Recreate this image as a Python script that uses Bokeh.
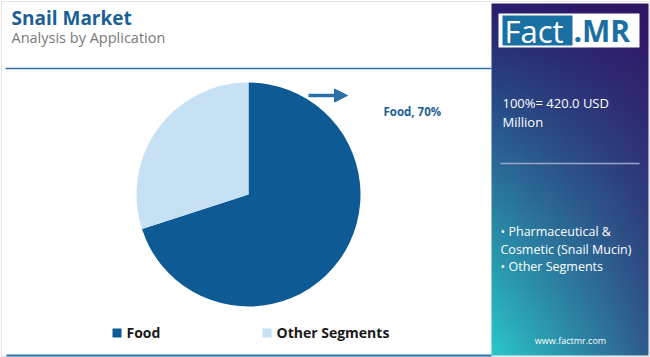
import numpy as np
from bokeh.plotting import figure
from bokeh.models import Range1d, ColumnDataSource, Arrow, NormalHead
from bokeh.core.properties import value
from bokeh.embed import file_html
from bokeh.resources import INLINE

# ---- data ----
categories = ["Food", "Other Segments"]
shares = [70, 30]
colors = ["#0d5a94", "#c5e1f3"]
title = "Snail Market"
subtitle = "Analysis by Application"
total_lines = ["100%= 420.0 USD", "Million"]
segment_lines = ["\u2022 Pharmaceutical &", "Cosmetic (Snail Mucin)", "\u2022 Other Segments"]
callout = "Food, 70%"

W, H = 650, 357
def Y(y):
    return H - y

p = figure(width=W, height=H, output_backend="svg", toolbar_location=None,
           x_range=Range1d(0, W), y_range=Range1d(0, H), min_border=0)
p.axis.visible = False
p.grid.visible = False
p.outline_line_color = None
p.background_fill_color = "white"
p.border_fill_color = "white"

# outer light border
p.quad(left=[1], right=[W - 1], bottom=[Y(H - 1)], top=[Y(1)], fill_color=None,
       line_color="#e6e6e6", line_width=1)

# ---- right gradient panel ----
nx, ny = 40, 80
xs = np.linspace(0, 1, nx)[None, :]
ys = np.linspace(0, 1, ny)[:, None]  # 0 = bottom
TL = np.array([40, 30, 110]); TR = np.array([48, 20, 100])
BL = np.array([42, 198, 200]); BR = np.array([46, 92, 142])
img = np.empty((ny, nx), dtype=np.uint32)
view = img.view(dtype=np.uint8).reshape((ny, nx, 4))
for c in range(3):
    top = TL[c] * (1 - xs) + TR[c] * xs
    bot = BL[c] * (1 - xs) + BR[c] * xs
    v = bot * (1 - ys) + top * ys
    view[:, :, c] = np.clip(v, 0, 255).astype(np.uint8)
view[:, :, 3] = 255
p.image_rgba(image=[img], x=491, y=Y(355), dw=157, dh=352)

# logo
p.quad(left=[498], right=[639], bottom=[Y(47)], top=[Y(13)], fill_color="white", line_color=None)
p.quad(left=[502], right=[572], bottom=[Y(45)], top=[Y(15)], fill_color="#1a6fa3", line_color=None)
p.text(x=[504], y=[Y(30)], text=["Fact"], text_color="white", text_font=value("Open Sans"),
       text_font_size="31px", text_baseline="middle", text_align="left")
p.text(x=[573], y=[Y(30)], text=[".MR"], text_color="#1a6fa3", text_font=value("Open Sans"),
       text_font_size="30px", text_font_style="bold", text_baseline="middle", text_align="left")

# total value text
p.text(x=[502] * len(total_lines), y=[Y(102 + 19 * i) for i in range(len(total_lines))],
       text=total_lines, text_color="white", text_font=value("Open Sans"),
       text_font_size="13px", text_baseline="middle", text_align="left")
p.segment(x0=[500], x1=[639], y0=[Y(163)], y1=[Y(163)], line_color="#9aa6c8", line_width=1.5)
p.text(x=[500] * len(segment_lines), y=[Y(231 + 17.5 * i) for i in range(len(segment_lines))],
       text=segment_lines, text_color="white", text_font=value("Open Sans"),
       text_font_size="12.5px", text_baseline="middle", text_align="left")
p.text(x=[570], y=[Y(340)], text=["www.factmr.com"], text_color="white",
       text_font=value("Open Sans"), text_font_size="9px", text_baseline="middle", text_align="center")

# ---- title ----
p.text(x=[11], y=[Y(17)], text=[title], text_color="#1a5f96", text_font=value("Open Sans"),
       text_font_size="19px", text_font_style="bold", text_baseline="middle", text_align="left")
p.text(x=[11], y=[Y(37)], text=[subtitle], text_color="#7a7a7a", text_font=value("Open Sans"),
       text_font_size="14.5px", text_baseline="middle", text_align="left")
p.segment(x0=[5], x1=[491], y0=[Y(68)], y1=[Y(68)], line_color="#2d74a8", line_width=1.5)
p.segment(x0=[6], x1=[491], y0=[Y(355)], y1=[Y(355)], line_color="#2d74a8", line_width=2)

# ---- pie ----
fr = np.array(shares, dtype=float) / sum(shares)
ends = np.pi / 2 - 2 * np.pi * np.cumsum(fr)
starts = np.concatenate([[np.pi / 2], ends[:-1]])
src = ColumnDataSource(dict(start=ends, end=starts, color=colors, cat=categories))
p.wedge(x=248, y=Y(194), radius=112, start_angle="start", end_angle="end",
        fill_color="color", line_color=None, source=src)

# callout
p.add_layout(Arrow(end=NormalHead(size=13, fill_color="#2a6fa6", line_color="#2a6fa6"),
                   x_start=308, y_start=Y(95), x_end=347, y_end=Y(95),
                   line_color="#2a6fa6", line_width=3.5))
p.text(x=[383], y=[Y(111)], text=[callout], text_color="#1a5f96", text_font=value("Open Sans"),
       text_font_size="11.5px", text_font_style="bold", text_baseline="middle", text_align="left")

# ---- legend ----
leg_x = [112, 262]
p.quad(left=leg_x, right=[x + 9 for x in leg_x], bottom=[Y(337)] * 2, top=[Y(328)] * 2,
       fill_color=colors, line_color=None)
p.text(x=[x + 14 for x in leg_x], y=[Y(332)] * 2, text=categories, text_color="#1a1a1a",
       text_font=value("Open Sans"), text_font_size="14px", text_font_style="bold",
       text_baseline="middle", text_align="left")

open("out.html", "w").write(file_html(p, INLINE))
